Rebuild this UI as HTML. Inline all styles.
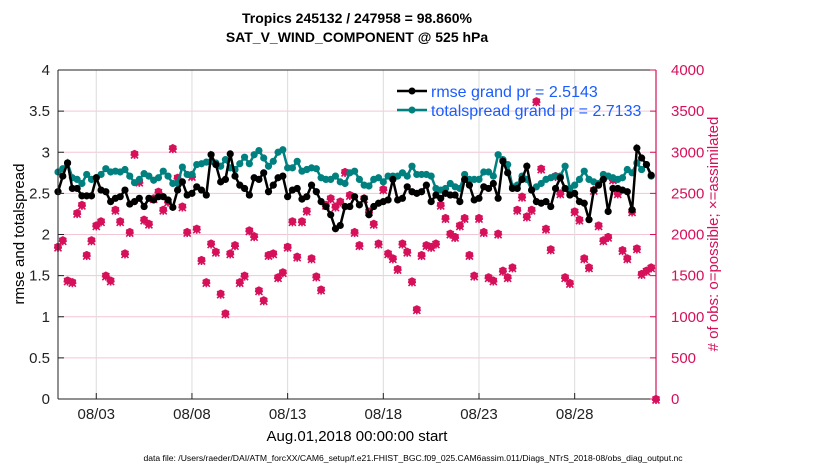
<!DOCTYPE html>
<html><head><meta charset="utf-8"><style>
body{margin:0;background:#fff;}
svg text{font-family:"Liberation Sans",Arial,sans-serif;}
</style></head><body>
<svg id="chart" width="830" height="470" xmlns="http://www.w3.org/2000/svg">
<g id="grid"></g>
<g id="series"></g>
<g id="axes"></g>
<text x="357" y="23" font-size="14" font-weight="bold" text-anchor="middle">Tropics 245132 / 247958 = 98.860%</text>
<text x="357" y="42" font-size="14" font-weight="bold" text-anchor="middle">SAT_V_WIND_COMPONENT @ 525 hPa</text>
<text transform="translate(24,234) rotate(-90)" font-size="15" text-anchor="middle">rmse and totalspread</text>
<text transform="translate(718,234) rotate(-90)" font-size="15" fill="#d6105a" text-anchor="middle"># of obs: o=possible; ×=assimilated</text>
<text x="357" y="441" font-size="15" text-anchor="middle">Aug.01,2018 00:00:00 start</text>
<text x="413" y="461" font-size="8.6" text-anchor="middle">data file: /Users/raeder/DAI/ATM_forcXX/CAM6_setup/f.e21.FHIST_BGC.f09_025.CAM6assim.011/Diags_NTrS_2018-08/obs_diag_output.nc</text>
<g>
<line x1="397" y1="91" x2="427" y2="91" stroke="#000" stroke-width="2.5"/><circle cx="412" cy="91" r="3.5" fill="#000"/>
<text x="431" y="97" font-size="16" fill="#1a5cff">rmse grand pr = 2.5143</text>
<line x1="397" y1="110" x2="427" y2="110" stroke="#00807f" stroke-width="2.5"/><circle cx="412" cy="110" r="3.5" fill="#00807f"/>
<text x="431" y="116" font-size="16" fill="#1a5cff">totalspread grand pr = 2.7133</text>
</g>
</svg>
<script>
const tickDays=[2,7,12,17,22,27];
const tickLabels=["08/03","08/08","08/13","08/18","08/23","08/28"];
const leftTicks=[0,0.5,1,1.5,2,2.5,3,3.5,4];
const rightTicks=[0,500,1000,1500,2000,2500,3000,3500,4000];
const rmse=[2.52,2.71,2.87,2.56,2.56,2.47,2.47,2.47,2.69,2.54,2.52,2.40,2.44,2.46,2.54,2.37,2.40,2.44,2.34,2.44,2.42,2.46,2.46,2.42,2.33,2.54,2.64,2.48,2.50,2.58,2.54,2.48,2.97,2.85,2.64,2.67,2.98,2.71,2.60,2.56,2.48,2.69,2.67,2.75,2.52,2.60,2.69,2.71,2.46,2.54,2.56,2.43,2.46,2.60,2.52,2.40,2.34,2.24,2.07,2.11,2.34,2.34,2.46,2.36,2.44,2.24,2.34,2.38,2.40,2.42,2.67,2.42,2.44,2.58,2.52,2.50,2.52,2.60,2.40,2.48,2.44,2.50,2.48,2.48,2.40,2.67,2.60,2.42,2.44,2.58,2.56,2.62,2.44,2.89,2.75,2.56,2.56,2.67,2.83,2.54,2.40,2.38,2.40,2.34,2.56,2.69,2.56,2.48,2.50,2.40,2.38,2.18,2.54,2.60,2.67,2.28,2.56,2.56,2.54,2.52,2.30,3.05,2.93,2.85,2.72];
const spread=[2.76,2.80,2.87,2.69,2.67,2.62,2.73,2.67,2.69,2.73,2.80,2.76,2.77,2.76,2.79,2.71,2.63,2.67,2.74,2.71,2.66,2.69,2.77,2.71,2.62,2.62,2.82,2.73,2.73,2.85,2.86,2.88,2.89,2.87,2.83,2.91,2.81,2.79,2.86,2.94,2.86,2.97,3.02,2.93,2.83,2.89,3.00,3.03,2.81,2.81,2.89,2.77,2.79,2.81,2.80,2.69,2.67,2.67,2.71,2.64,2.62,2.75,2.77,2.67,2.60,2.59,2.67,2.69,2.64,2.71,2.71,2.71,2.75,2.71,2.83,2.73,2.73,2.73,2.71,2.56,2.54,2.56,2.62,2.58,2.56,2.73,2.67,2.67,2.67,2.76,2.76,2.71,2.97,2.91,2.85,2.58,2.60,2.71,2.67,2.54,2.58,2.62,2.67,2.69,2.71,2.71,2.83,2.56,2.60,2.67,2.77,2.67,2.64,2.62,2.73,2.71,2.69,2.67,2.69,2.79,2.75,2.87,2.79,2.85,2.71];
const obsCount=[1850,1930,1440,1420,2260,2360,1750,1930,2110,2160,1500,1440,2300,2160,1770,2030,2980,2640,2180,2130,2440,2520,2300,2400,3050,2690,2340,2030,2710,2070,1690,1420,1890,1790,1280,1040,1770,1870,1420,1500,2050,1980,1320,1200,1750,1770,1480,1540,1850,2160,1730,2160,2290,1710,1490,1330,2360,2440,2340,2400,2760,2480,2030,1870,2440,2280,2130,1890,2550,1770,1710,1580,1890,1790,1430,1090,1750,1870,1850,1890,2360,2200,2010,1970,2110,2200,1750,1500,2200,2030,1480,1440,2010,1560,1480,1600,2300,2460,2220,2300,3620,2800,2070,1820,2710,2500,1480,1410,2280,2180,1710,1600,2540,2110,1930,1970,2670,2500,1810,1710,2280,1830,1520,1560,1600,0];
const stepDays=0.25;

const L=58,R=656,T=70,B=399,XMAX=31.25;
const xs=d=>L+(R-L)*d/XMAX;
const yl=v=>B-(B-T)*v/4;
const yr=c=>B-(B-T)*c/4000;
const NS="http://www.w3.org/2000/svg";
function mk(tag,attrs,parent){const e=document.createElementNS(NS,tag);for(const k in attrs)e.setAttribute(k,attrs[k]);parent.appendChild(e);return e;}
const grid=document.getElementById('grid'),ser=document.getElementById('series'),ax=document.getElementById('axes');
leftTicks.forEach(v=>{const g=mk('line',{x1:L,x2:R,y1:yl(v),y2:yl(v),stroke:'#f3c6d6','stroke-width':1},grid);

});
tickDays.forEach((d,i)=>{const g=mk('line',{x1:xs(d),x2:xs(d),y1:T,y2:B,stroke:'#dcdcdc','stroke-width':1},grid);


const t=mk('line',{x1:xs(d),x2:xs(d),y1:B,y2:B-6,stroke:'#222'},ax);


const tx=mk('text',{x:xs(d),y:B+20,'font-size':15,'text-anchor':'middle',fill:'#222'},ax);tx.textContent=tickLabels[i];

});
mk('line',{x1:L,x2:R,y1:B,y2:B,stroke:'#222','stroke-width':1},ax);
mk('line',{x1:L,x2:L,y1:T,y2:B,stroke:'#222','stroke-width':1},ax);
mk('line',{x1:L,x2:R,y1:T,y2:T,stroke:'#222','stroke-width':1},ax);
mk('line',{x1:R,x2:R,y1:T,y2:B,stroke:'#d6105a','stroke-width':1.2},ax);
leftTicks.forEach(v=>{mk('line',{x1:L,x2:L+6,y1:yl(v),y2:yl(v),stroke:'#222'},ax);
const t=mk('text',{x:L-8,y:yl(v)+5,'font-size':15,'text-anchor':'end',fill:'#222'},ax);t.textContent=String(v);

});
rightTicks.forEach(c=>{mk('line',{x1:R-6,x2:R,y1:yr(c),y2:yr(c),stroke:'#d6105a'},ax);
const t=mk('text',{x:R+15,y:yr(c)+5,'font-size':15,fill:'#d6105a'},ax);t.textContent=String(c);

});
obsCount.forEach((c,i)=>{const x=xs(i*stepDays),y=yr(c);
const g=mk('g',{stroke:'#d6105a','stroke-width':1.6,fill:'none'},ser);


mk('circle',{cx:x,cy:y,r:3,fill:'#d6105a'},g);
mk('line',{x1:x-4,x2:x+4,y1:y+1,y2:y+1},g);mk('line',{x1:x,x2:x,y1:y-4,y2:y+5},g);
mk('line',{x1:x-3.5,x2:x+3.5,y1:y-2.5,y2:y+4.5},g);mk('line',{x1:x+3.5,x2:x-3.5,y1:y-2.5,y2:y+4.5},g);});
function line(arr,color,name){const pts=arr.map((v,i)=>xs(i*stepDays)+','+yl(v)).join(' ');
const p=mk('polyline',{points:pts,fill:'none',stroke:color,'stroke-width':2.5},ser);


arr.forEach((v,i)=>{const c=mk('circle',{cx:xs(i*stepDays),cy:yl(v),r:3.6,fill:color},ser);

});}
line(spread,'#00807f','totalspread');
line(rmse,'#000','rmse');
</script>
</body></html>
